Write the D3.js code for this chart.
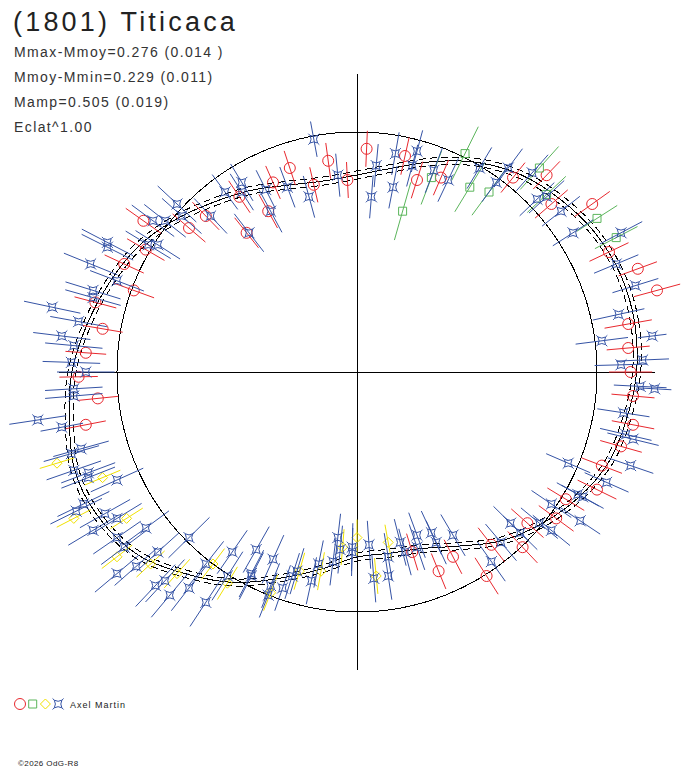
<!DOCTYPE html>
<html>
<head>
<meta charset="utf-8">
<script src="https://cdn.jsdelivr.net/npm/d3@7"></script>
<style>
  body { margin: 0; background: #fff; }
  svg { display: block; }
</style>
</head>
<body>
<svg id="chart" width="688" height="768"></svg>
<script>
// Header texts
const titleText = "(1801) Titicaca";
const infoLines = [
  "Mmax-Mmoy=0.276 (0.014 )",
  "Mmoy-Mmin=0.229 (0.011)",
  "Mamp=0.505 (0.019)",
  "Eclat^1.00"
];
const observer = "Axel Martin";
const copyright = "\u00a92026 OdG-R8";

// Fitted shape: phase angle (deg, ccw from +x) and radius (reference circle = 100)
const curveAngles = [0, 10, 20, 30, 40, 50, 60, 70, 80, 90, 100, 110, 120, 130, 140, 150, 160, 170,
  180, 190, 200, 210, 220, 230, 240, 250, 260, 270, 280, 290, 300, 310, 320, 330, 340, 350];
const curveRadii = [116.5, 117.5, 117.1, 115, 111.3, 107, 100.8, 93.3, 86.3, 82.1, 80.8, 82.9, 87.5,
  92.5, 98.8, 105, 109.6, 114.2, 118.8, 121.7, 124.6, 123.3, 118.8, 110, 101.3, 91.3, 83.3, 77.1,
  76.7, 78.3, 83.8, 92.1, 99.2, 105.8, 111.3, 114];
const curveSpread = 1.7;

// Observations: [x, y, error] in the same units (circle radius = 100)
const redPts = [
  [-28, 85, 7.5], [-12, 88, 7.5], [4, 93, 7.5], [-35, 79, 7.5], [-18, 78, 7.5], [-4, 80, 7.5],
  [20, 90, 8], [25, 80, 8], [-49, 73, 8], [-37, 67, 8], [-63, 65, 8], [-46, 58, 8],
  [35, 81, 8], [65, 81, 8], [79, 82, 8], [81, 70, 9], [98, 70, 9], [105, 50, 9],
  [117, 43, 8.5], [125, 34, 10], [113, 20, 10], [113, 10, 9], [114, 0, 9], [115, -10, 9],
  [115, -22, 9], [110, -31, 9], [102, -39, 9], [100, -49, 9], [87, -53, 9], [83, -61, 9],
  [71, -63, 9], [69, -73, 9], [56, -72, 9], [54, -85, 9], [23, -75, 8], [40, -77, 8],
  [34, -83, 8], [-97, 45, 9], [-93, 34, 9], [-109, 29, 9], [-106, 18, 8.5], [-113, 8, 8.5],
  [-116, -2, 8], [-108, -11, 8.5], [-113, -22, 8.5], [-89, 63, 9], [-70, 60, 9], [-88, 51, 9]
];
const greenPts = [
  [19, 67, 12.5], [45, 91, 12.5], [31, 81, 12], [47, 77, 12], [55, 75, 12], [76, 85, 12],
  [79, 74, 11], [100, 64, 10], [108, 56, 10]
];
const yellowPts = [
  [-125, -38, 7.5], [-106, -44, 8], [-118, -61, 8], [-96, -61, 8], [-100, -77, 8], [-86, -80, 8],
  [-75, -84, 8], [-60, -80, 8], [-54, -88, 8], [-36, -92, 8], [-24, -83, 8], [-15, -83, 8],
  [-6, -73, 7.5], [0, -69, 7.5], [13, -71, 7.5], [8, -85, 7.5]
];
const bluePts = [
  [-18, 97, 7.5], [16, 91, 9], [8, 86, 9], [-8, 82, 9], [25, 92, 9], [23, 86, 9],
  [15, 77, 9], [6, 73, 9], [-20, 73, 9], [-29, 77, 9], [-38, 76, 9], [-48, 79, 9],
  [-55, 75, 9], [-48, 75, 9], [-61, 65, 10], [-45, 58, 10], [-36, 67, 10], [32, 84, 10],
  [38, 80, 10], [51, 85, 10], [58, 79, 10], [63, 85, 10], [73, 83, 10], [75, 72, 10],
  [85, 67, 10], [90, 58, 10], [79, 73, 10], [110, 58, 10], [108, 45, 10], [116, 36, 10],
  [109, 24, 11], [102, 13, 11], [123, 15, 6], [119, 5, 11], [110, 3, 11], [118, -6, 11],
  [124, -7, 7], [111, -17, 11], [112, -26, 11], [115, -28, 11], [114, -39, 10], [88, -38, 10],
  [104, -46, 10], [92, -51, 10], [94, -52, 10], [81, -55, 10], [93, -62, 10], [76, -63, 10],
  [81, -66, 10], [64, -63, 10], [68, -67, 10], [60, -71, 10], [56, -79, 10], [40, -68, 10],
  [31, -67, 10], [25, -68, 10], [25, -73, 10], [33, -71, 10], [18, -71, 10], [20, -75, 10],
  [13, -77, 10], [13, -85, 10], [7, -86, 10], [5, -72, 10], [-2, -73, 10], [-2, -75, 10],
  [-8, -69, 10], [-7, -74, 10], [-10, -79, 10], [-16, -80, 10], [-19, -87, 10], [-25, -83, 10],
  [-27, -85, 10], [-31, -90, 10], [-36, -89, 10], [-37, -93, 10], [-44, -84, 11], [-44, -85, 11],
  [-35, -78, 11], [-42, -74, 11], [-52, -75, 11], [-115, -32, 12], [-119, -34, 12], [-118, -41, 12],
  [-112, -42, 12], [-112, -44, 12], [-100, -45, 12], [-114, -55, 12], [-117, -58, 12], [-105, -59, 12],
  [-100, -61, 12], [-110, -66, 12], [-88, -65, 12], [-100, -69, 12], [-97, -73, 12], [-92, -81, 12],
  [-100, -84, 12], [-83, -75, 12], [-70, -69, 12], [-84, -89, 12], [-80, -87, 12], [-78, -93, 12],
  [-70, -90, 12], [-63, -96, 12], [-63, -80, 12], [-54, -85, 12], [-111, 45, 12], [-100, 38, 12],
  [-110, 34, 12], [-110, 31, 12], [-127, 27, 12], [-116, 21, 12], [-123, 15, 12], [-118, 11, 12],
  [-119, 4, 12], [-113, 0, 12], [-118, -7, 12], [-118, -10, 12], [-133, -20, 12], [-123, -23, 9],
  [-75, 70, 11], [-73, 65, 11], [-80, 63, 11], [-85, 63, 11], [-104, 54, 12], [-104, 52, 12],
  [-87, 53, 11], [-83, 53, 11]
];

const series = [
  { name: "red", pts: redPts, color: "#e8282e", shape: "circle" },
  { name: "green", pts: greenPts, color: "#5bb55b", shape: "square" },
  { name: "yellow", pts: yellowPts, color: "#f0e100", shape: "diamond" },
  { name: "blue", pts: bluePts, color: "#3553a5", shape: "star" }
];

const svg = d3.select("#chart");

// Scales: 1 unit = 2.4 px, centre of the plot at (357, 372)
const x = d3.scaleLinear().domain([-124, 124]).range([357 - 297.6, 357 + 297.6]);
const y = d3.scaleLinear().domain([-124, 124]).range([372 + 297.6, 372 - 297.6]);

const plot = svg.append("g").attr("shape-rendering", "crispEdges");

// Reference circle
plot.append("circle")
  .attr("cx", x(0))
  .attr("cy", y(0))
  .attr("r", x(100) - x(0))
  .attr("fill", "none")
  .attr("stroke", "#000")
  .attr("stroke-width", 1);

// Axes
plot.append("line")
  .attr("x1", x(-124)).attr("x2", x(124))
  .attr("y1", y(0)).attr("y2", y(0))
  .attr("stroke", "#000");
plot.append("line")
  .attr("x1", x(0)).attr("x2", x(0))
  .attr("y1", y(124)).attr("y2", y(-124))
  .attr("stroke", "#000");

// Fitted curve and its +/- envelope
const shapeLine = (offset) => d3.line()
  .x((d, i) => x((curveRadii[i] + offset) * Math.cos(d * Math.PI / 180)))
  .y((d, i) => y((curveRadii[i] + offset) * Math.sin(d * Math.PI / 180)))
  .curve(d3.curveCatmullRomClosed.alpha(0.5));

plot.append("path")
  .attr("d", shapeLine(0)(curveAngles))
  .attr("fill", "none")
  .attr("stroke", "#000")
  .attr("stroke-width", 1);

[-curveSpread, curveSpread].forEach((off) => {
  plot.append("path")
    .attr("d", shapeLine(off)(curveAngles))
    .attr("fill", "none")
    .attr("stroke", "#000")
    .attr("stroke-width", 1)
    .attr("stroke-dasharray", "7,4");
});

// Marker shapes
const markerPath = {
  square: "M-4,-4H4V4H-4Z",
  diamond: "M0,-5L5,0L0,5L-5,0Z",
  star: "M-3.8,-3.8Q0,-1.6 3.8,-3.8Q1.6,0 3.8,3.8Q0,1.6 -3.8,3.8Q-1.6,0 -3.8,-3.8Z" +
    "M-3.8,-3.8L-5.5,-5.5M3.8,-3.8L5.5,-5.5M3.8,3.8L5.5,5.5M-3.8,3.8L-5.5,5.5"
};

function drawMarker(g, shape, color) {
  if (shape === "circle") {
    g.append("circle").attr("r", 5.5)
      .attr("fill", "none").attr("stroke", color).attr("stroke-width", 1);
  } else {
    g.append("path").attr("d", markerPath[shape])
      .attr("fill", "none").attr("stroke", color).attr("stroke-width", 1);
  }
}

// Observations with radial error bars
series.forEach((s) => {
  const grp = svg.append("g").attr("class", "obs-" + s.name);

  grp.selectAll("line")
    .data(s.pts)
    .join("line")
    .attr("x1", (d) => { const r = Math.hypot(d[0], d[1]); return x(d[0] * (1 - d[2] / r)); })
    .attr("y1", (d) => { const r = Math.hypot(d[0], d[1]); return y(d[1] * (1 - d[2] / r)); })
    .attr("x2", (d) => { const r = Math.hypot(d[0], d[1]); return x(d[0] * (1 + d[2] / r)); })
    .attr("y2", (d) => { const r = Math.hypot(d[0], d[1]); return y(d[1] * (1 + d[2] / r)); })
    .attr("stroke", s.color)
    .attr("stroke-width", 1);

  grp.selectAll("g.mk")
    .data(s.pts)
    .join("g")
    .attr("class", "mk")
    .attr("transform", (d) => `translate(${x(d[0])},${y(d[1])})`)
    .each(function () { drawMarker(d3.select(this), s.shape, s.color); });
});

// Title and info text
svg.append("text")
  .attr("x", 13)
  .attr("y", 31)
  .attr("font-family", "Liberation Sans, Arial, sans-serif")
  .attr("font-size", 27)
  .attr("letter-spacing", "3.2px")
  .attr("fill", "#222")
  .text(titleText);

svg.append("g")
  .selectAll("text")
  .data(infoLines)
  .join("text")
  .attr("x", 14)
  .attr("y", (d, i) => 57 + i * 25)
  .attr("font-family", "Liberation Sans, Arial, sans-serif")
  .attr("font-size", 14)
  .attr("letter-spacing", "1.4px")
  .attr("fill", "#333")
  .text((d) => d);

// Legend
const legend = svg.append("g").attr("transform", "translate(20,704)");
series.forEach((s, i) => {
  const g = legend.append("g").attr("transform", `translate(${i * 12.7},0)`);
  drawMarker(g, s.shape, s.color);
});
legend.append("text")
  .attr("x", 50)
  .attr("y", 4)
  .attr("font-family", "Liberation Sans, Arial, sans-serif")
  .attr("font-size", 9)
  .attr("letter-spacing", "1px")
  .attr("fill", "#222")
  .text(observer);

svg.append("text")
  .attr("x", 18)
  .attr("y", 766)
  .attr("font-family", "Liberation Sans, Arial, sans-serif")
  .attr("font-size", 8)
  .attr("letter-spacing", "0.4px")
  .attr("fill", "#222")
  .text(copyright);
</script>
</body>
</html>
